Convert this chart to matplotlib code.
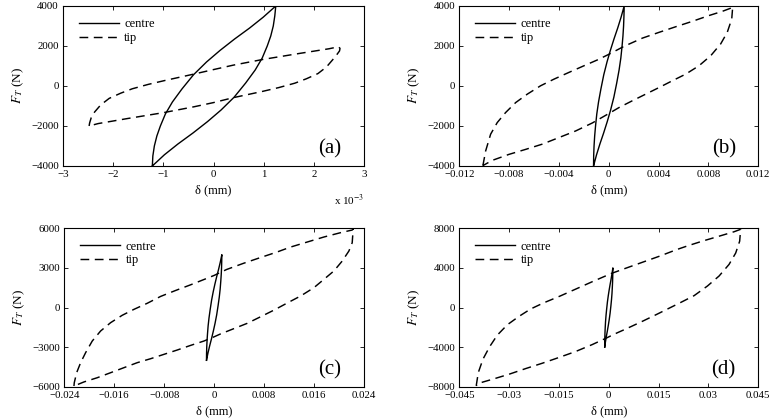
"""Hysteresis loops of tangential force vs. displacement, centre and tip.

Four panels (a)-(d), each with a closed loop for the centre and the tip.
Values were read off the reference figure by hand.
"""

import matplotlib
matplotlib.use("Agg")
import matplotlib.pyplot as plt
import numpy as np

# centre loop (mm, N) -- same in all four panels
CENTRE_UP_X = [-0.00122, -0.00121, -0.00118, -0.00113, -0.00106, -0.00096,
               -0.00082, -0.00063, -0.00040, -0.00014, 0.00013, 0.00042,
               0.00072, 0.00099, 0.00124]
CENTRE_UP_Y = [-4000, -3500, -3000, -2500, -2000, -1400, -800, -150, 560,
               1200, 1780, 2350, 2900, 3440, 4000]
CENTRE_DOWN_X = [0.00124, 0.00122, 0.00119, 0.00114, 0.00107, 0.00097,
                 0.00083, 0.00064, 0.00041, 0.00015, -0.00012, -0.00041,
                 -0.00071, -0.00098, -0.00122]
CENTRE_DOWN_Y = [4000, 3500, 3000, 2500, 2000, 1400, 800, 150, -560, -1200,
                 -1780, -2350, -2900, -3440, -4000]

# tip loops (mm, N)
TIP_A_UP_X = [-0.00248, -0.00247, -0.00244, -0.00237, -0.00225, -0.00208,
              -0.00185, -0.00162, -0.00130, -0.00096, -0.00040, 0.0,
              0.00039, 0.00099, 0.00172, 0.00230, 0.00249]
TIP_A_UP_Y = [-2000, -1850, -1600, -1300, -950, -620, -360, -140, 80, 280,
              590, 820, 1040, 1330, 1630, 1860, 1960]
TIP_A_DOWN_X = [0.00249, 0.00252, 0.00251, 0.00246, 0.00237, 0.00225,
                0.00208, 0.00185, 0.00162, 0.00130, 0.00096, 0.00040, 0.0,
                -0.00039, -0.00099, -0.00172, -0.00230, -0.00248]
TIP_A_DOWN_Y = [1960, 1880, 1750, 1580, 1300, 950, 620, 360, 140, -80, -280,
                -580, -830, -1040, -1330, -1630, -1880, -2000]

TIP_B_UP_X = [-0.01010, -0.00988, -0.00948, -0.00895, -0.00828, -0.00747,
              -0.00654, -0.00547, -0.00440, -0.00319, -0.00199, -0.00092,
              0.0, 0.00122, 0.00269, 0.00403, 0.00537, 0.00670, 0.00804,
              0.00911, 0.00975, 0.00995]
TIP_B_UP_Y = [-3980, -3250, -2410, -1830, -1330, -830, -410, 10, 340, 680,
              1010, 1300, 1580, 1980, 2390, 2680, 2960, 3230, 3520, 3730,
              3880, 3970]
TIP_B_DOWN_X = [0.00995, 0.00987, 0.00951, 0.00898, 0.00818, 0.00724,
                0.00617, 0.00510, 0.00403, 0.00296, 0.00189, 0.00082, 0.0,
                -0.00132, -0.00266, -0.00400, -0.00534, -0.00667, -0.00801,
                -0.00935, -0.01010]
TIP_B_DOWN_Y = [3970, 3350, 2680, 2100, 1510, 1010, 590, 260, -80, -410,
                -740, -1080, -1380, -1850, -2250, -2580, -2910, -3170, -3420,
                -3720, -3980]

TIP_C_UP_X = [-0.02245, -0.02240, -0.02202, -0.02138, -0.02058, -0.01952,
              -0.01818, -0.01658, -0.01472, -0.01284, -0.01071, -0.00857,
              -0.00617, -0.00376, -0.00163, 0.0, 0.00200, 0.00466, 0.00733,
              0.01000, 0.01225, 0.01491, 0.01758, 0.02026, 0.02212, 0.02228]
TIP_C_UP_Y = [-5950, -5700, -4940, -4180, -3420, -2540, -1780, -1150, -590,
              -140, 320, 840, 1290, 1720, 2120, 2430, 2880, 3340, 3770, 4190,
              4580, 4960, 5340, 5670, 5870, 5970]
TIP_C_DOWN_X = [0.02228, 0.02212, 0.02159, 0.02052, 0.01919, 0.01758,
                0.01598, 0.01385, 0.01187, 0.00958, 0.00745, 0.00530,
                0.00317, 0.00104, 0.0, -0.00163, -0.00376, -0.00590,
                -0.00804, -0.01017, -0.01231, -0.01445, -0.01658, -0.01872,
                -0.02085, -0.02245]
TIP_C_DOWN_Y = [5970, 4910, 4280, 3520, 2770, 2130, 1500, 870, 380, -200,
                -700, -1200, -1600, -2000, -2220, -2540, -2870, -3220, -3550,
                -3880, -4180, -4560, -4940, -5320, -5640, -5950]

TIP_D_UP_X = [-0.03988, -0.03960, -0.03928, -0.03787, -0.03585, -0.03356,
              -0.03055, -0.02703, -0.02351, -0.01972, -0.01469, -0.00967,
              -0.00467, 0.00087, 0.00539, 0.01039, 0.01541, 0.02044,
              0.02393, 0.02814, 0.03317, 0.03769, 0.03970]
TIP_D_UP_Y = [-7900, -7300, -6590, -5230, -3960, -2800, -1750, -900, -150,
              450, 1150, 1900, 2650, 3450, 4000, 4600, 5200, 5850, 6250,
              6700, 7200, 7650, 7900]
TIP_D_DOWN_X = [0.03970, 0.03940, 0.03820, 0.03620, 0.03320, 0.02970,
                0.02570, 0.02160, 0.01440, 0.01040, 0.00560, 0.00160,
                -0.00050, -0.00500, -0.01000, -0.01500, -0.02000, -0.02500,
                -0.03000, -0.03500, -0.03910, -0.03988]
TIP_D_DOWN_Y = [7900, 6700, 5500, 4350, 3180, 2170, 1200, 500, -700, -1350,
                -2100, -2700, -3050, -3750, -4450, -5050, -5630, -6170,
                -6740, -7250, -7650, -7900]

# axis ticks and labels
XTICKS_A = [-3, -2, -1, 0, 1, 2, 3]  # in units of 1e-3 mm
XLABELS_A = ["\u22123", "\u22122", "\u22121", "0", "1", "2", "3"]
XTICKS_B = [-0.012, -0.008, -0.004, 0, 0.004, 0.008, 0.012]
XLABELS_B = ["\u22120.012", "\u22120.008", "\u22120.004", "0", "0.004",
             "0.008", "0.012"]
XTICKS_C = [-0.024, -0.016, -0.008, 0, 0.008, 0.016, 0.024]
XLABELS_C = ["\u22120.024", "\u22120.016", "\u22120.008", "0", "0.008",
             "0.016", "0.024"]
XTICKS_D = [-0.045, -0.03, -0.015, 0, 0.015, 0.03, 0.045]
XLABELS_D = ["\u22120.045", "\u22120.03", "\u22120.015", "0", "0.015",
             "0.03", "0.045"]
YTICKS_AB = [-4000, -2000, 0, 2000, 4000]
YTICKS_C = [-6000, -3000, 0, 3000, 6000]
YTICKS_D = [-8000, -4000, 0, 4000, 8000]
PANEL_LABELS = ["(a)", "(b)", "(c)", "(d)"]

plt.rcParams["font.family"] = "serif"
plt.rcParams["font.serif"] = ["Liberation Serif", "DejaVu Serif"]
plt.rcParams["mathtext.fontset"] = "stix"
plt.rcParams["xtick.direction"] = "in"
plt.rcParams["ytick.direction"] = "in"
plt.rcParams["xtick.top"] = True
plt.rcParams["ytick.right"] = True

DASH = (0, (6.0, 3.8))


def ylabels(ticks):
    return [str(t).replace("-", "\u2212") for t in ticks]


def draw_panel(fig, rect, tip, xscale, xticks, xlabels, yticks, label):
    ax = fig.add_axes(rect)
    up_x, up_y, down_x, down_y = tip
    cx = np.concatenate([CENTRE_UP_X, CENTRE_DOWN_X]) * xscale
    cy = np.concatenate([CENTRE_UP_Y, CENTRE_DOWN_Y])
    tx = np.concatenate([up_x, down_x]) * xscale
    ty = np.concatenate([up_y, down_y])
    ax.plot(cx, cy, "k-", lw=1.0, label="centre")
    ax.plot(tx, ty, color="k", ls=DASH, lw=1.05, label="tip")

    ax.set_xlim(xticks[0], xticks[-1])
    ax.set_ylim(yticks[0], yticks[-1])
    ax.set_xticks(xticks)
    ax.set_xticklabels(xlabels)
    ax.set_yticks(yticks)
    ax.set_yticklabels(ylabels(yticks))
    ax.tick_params(labelsize=7.8, length=3, width=0.6, pad=3)
    for s in ax.spines.values():
        s.set_linewidth(0.8)

    ax.set_xlabel("\u03b4 (mm)", fontsize=9, labelpad=4)
    ax.set_ylabel("$F_T$ (N)", fontsize=9.5, labelpad=3.5)
    ax.legend(loc="upper left", bbox_to_anchor=(0.0, 1.02), frameon=False,
              fontsize=9, handlelength=3.2, handletextpad=0.45,
              labelspacing=0.12, borderaxespad=0.5, borderpad=0.75)
    ax.text(0.925, 0.105, label, transform=ax.transAxes, ha="right",
            va="center", fontsize=15)
    return ax


def main():
    fig = plt.figure(figsize=(7.81, 4.2), dpi=100)

    ax_a = draw_panel(fig, [0.0807, 0.6048, 0.3855, 0.381],
                      (TIP_A_UP_X, TIP_A_UP_Y, TIP_A_DOWN_X, TIP_A_DOWN_Y),
                      1e3, XTICKS_A, XLABELS_A, YTICKS_AB, PANEL_LABELS[0])
    ax_a.text(1.0, -0.215, "x 10$^{-3}$", transform=ax_a.transAxes,
              ha="right", va="center", fontsize=8)

    draw_panel(fig, [0.588, 0.6048, 0.3829, 0.381],
               (TIP_B_UP_X, TIP_B_UP_Y, TIP_B_DOWN_X, TIP_B_DOWN_Y),
               1.0, XTICKS_B, XLABELS_B, YTICKS_AB, PANEL_LABELS[1])
    draw_panel(fig, [0.0823, 0.0793, 0.3837, 0.3771],
               (TIP_C_UP_X, TIP_C_UP_Y, TIP_C_DOWN_X, TIP_C_DOWN_Y),
               1.0, XTICKS_C, XLABELS_C, YTICKS_C, PANEL_LABELS[2])
    draw_panel(fig, [0.588, 0.0793, 0.3829, 0.3771],
               (TIP_D_UP_X, TIP_D_UP_Y, TIP_D_DOWN_X, TIP_D_DOWN_Y),
               1.0, XTICKS_D, XLABELS_D, YTICKS_D, PANEL_LABELS[3])

    fig.savefig("out.png", dpi=100)


if __name__ == "__main__":
    main()
